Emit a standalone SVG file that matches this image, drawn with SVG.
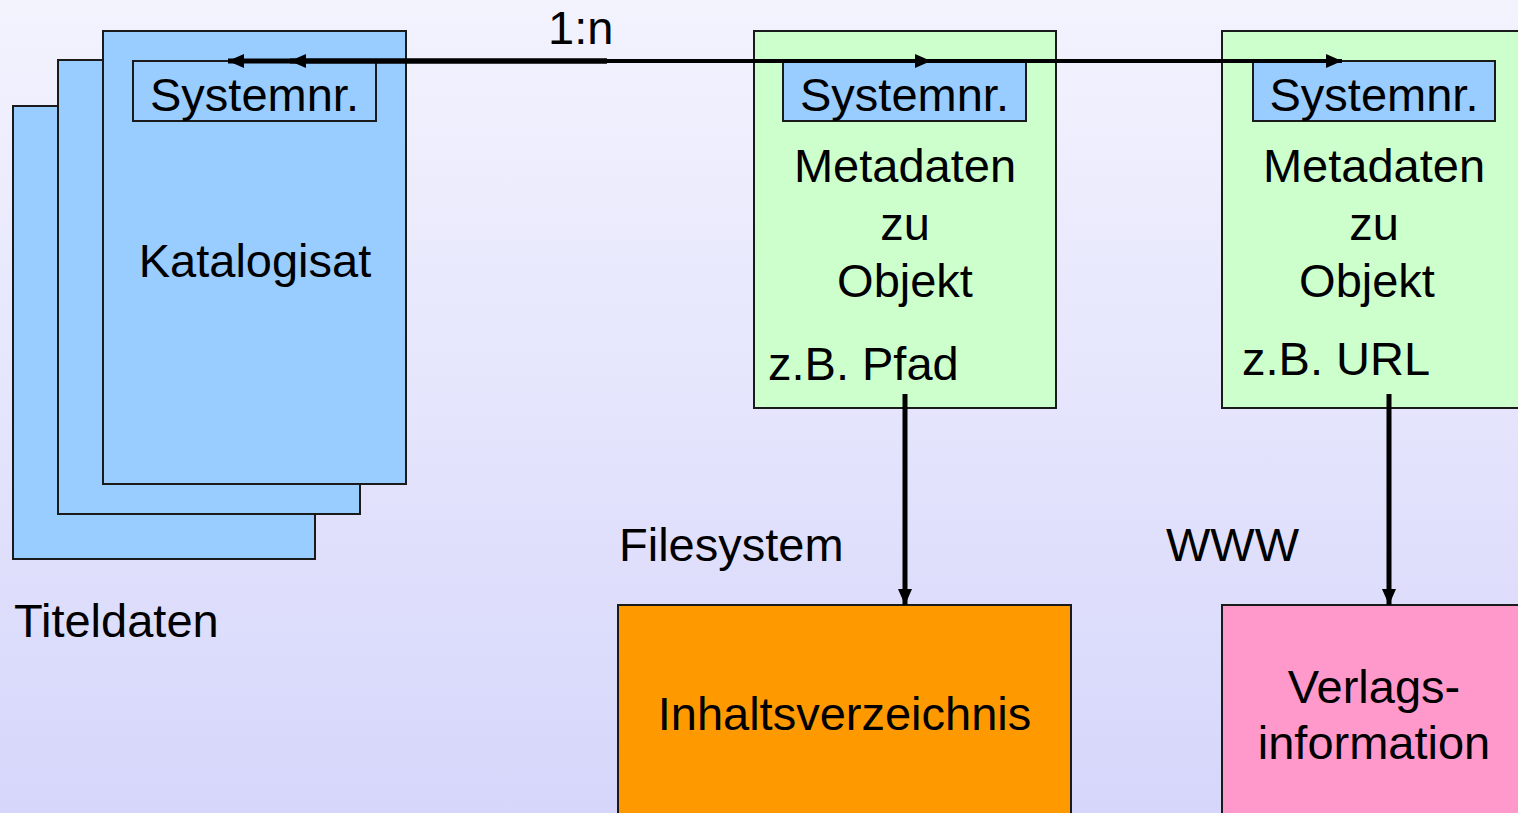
<svg xmlns="http://www.w3.org/2000/svg" width="1518" height="813" viewBox="0 0 1518 813">
<defs>
<linearGradient id="bg" x1="0" y1="0" x2="0" y2="1">
<stop offset="0" stop-color="#F3F3FE"/>
<stop offset="1" stop-color="#D6D6FB"/>
</linearGradient>
<marker id="ah" markerUnits="userSpaceOnUse" markerWidth="18" markerHeight="14" refX="16" refY="7" orient="auto">
<path d="M0,0 L16,7 L0,14 Z" fill="#000"/>
</marker>
</defs>
<style>
.t{font-family:"Liberation Sans",Arial,sans-serif;font-size:47px;fill:#000}
.m{text-anchor:middle}
.box{stroke:#1a1a1a;stroke-width:2}
.blue{fill:#99CCFF}
.green{fill:#CCFFCC}
.con{stroke:#000;fill:none}
</style>
<rect x="0" y="0" width="1518" height="813" fill="url(#bg)"/>

<g id="titeldaten">
<rect class="box blue" x="13" y="106" width="302" height="453"/>
<rect class="box blue" x="58" y="60" width="302" height="454"/>
<rect class="box blue" x="103" y="31" width="303" height="453"/>
<rect class="box blue" x="133" y="61" width="243" height="60"/>
<text class="t m" x="254.5" y="111">Systemnr.</text>
<text class="t m" x="255" y="277">Katalogisat</text>
<text class="t" x="14" y="637">Titeldaten</text>
</g>

<g id="metadaten1">
<rect class="box green" x="754" y="31" width="302" height="377"/>
<rect class="box blue" x="783" y="61" width="243" height="60"/>
<text class="t m" x="904.5" y="111">Systemnr.</text>
<text class="t m" x="905" y="182">Metadaten</text>
<text class="t m" x="905" y="240">zu</text>
<text class="t m" x="905" y="297">Objekt</text>
<text class="t" x="768" y="380">z.B. Pfad</text>
</g>

<g id="metadaten2">
<rect class="box green" x="1222" y="31" width="304" height="377"/>
<rect class="box blue" x="1253" y="61" width="242" height="60"/>
<text class="t m" x="1374" y="111">Systemnr.</text>
<text class="t m" x="1374" y="182">Metadaten</text>
<text class="t m" x="1374" y="240">zu</text>
<text class="t m" x="1367" y="297">Objekt</text>
<text class="t" x="1242" y="375">z.B. URL</text>
</g>

<g id="inhaltsverzeichnis">
<rect class="box" fill="#FF9900" x="618" y="605" width="453" height="220"/>
<text class="t m" x="844.5" y="730">Inhaltsverzeichnis</text>
<text class="t" x="619" y="561">Filesystem</text>
</g>

<g id="verlagsinformation">
<rect class="box" fill="#FF99CC" x="1222" y="605" width="304" height="220"/>
<text class="t m" x="1374" y="703">Verlags-</text>
<text class="t m" x="1374" y="759">information</text>
<text class="t" x="1166" y="561">WWW</text>
</g>

<g id="connectors">
<path class="con" stroke-width="5" d="M607,61 L228,61" marker-end="url(#ah)"/>
<path class="con" stroke-width="5" d="M607,61 L290,61" marker-end="url(#ah)"/>
<path class="con" stroke-width="4" d="M607,61 L931,61" marker-end="url(#ah)"/>
<path class="con" stroke-width="4" d="M607,61 L1342,61" marker-end="url(#ah)"/>
<path class="con" stroke-width="5" d="M905,394 L905,605" marker-end="url(#ah)"/>
<path class="con" stroke-width="5" d="M1389,394 L1389,605" marker-end="url(#ah)"/>
<text class="t" x="548" y="44">1:n</text>
</g>
</svg>
